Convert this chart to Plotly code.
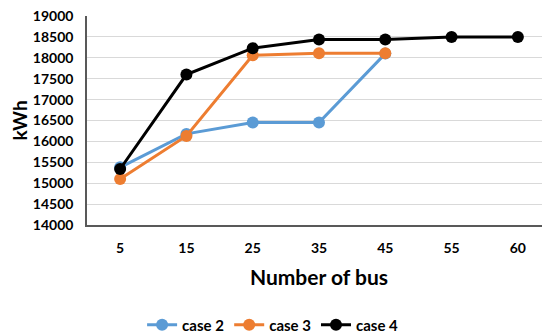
import plotly.graph_objects as go

buses = ["5", "15", "25", "35", "45", "55", "60"]
case2 = [15380, 16180, 16450, 16450, 18100]
case3 = [15100, 16130, 18060, 18110, 18110]
case4 = [15340, 17600, 18230, 18440, 18440, 18500, 18500]
y_ticks = list(range(14000, 19001, 500))
y_labels = [str(v) for v in y_ticks]

FONT = "Lato"

fig = go.Figure()
for name, vals, color in [("case 2", case2, "#5B9BD5"),
                          ("case 3", case3, "#ED7D31"),
                          ("case 4", case4, "#000000")]:
    fig.add_trace(go.Scatter(
        x=buses[:len(vals)], y=vals, name=name, mode="lines+markers",
        line=dict(color=color, width=3),
        marker=dict(color=color, size=12),
    ))

fig.update_layout(
    width=550, height=333,
    margin=dict(l=79, r=7, t=8, b=116, autoexpand=False),
    plot_bgcolor="white", paper_bgcolor="white",
    font=dict(family=FONT, color="#000000"),
    showlegend=True,
    legend=dict(orientation="h", x=0.40, xanchor="center", y=-0.478, yanchor="middle",
                font=dict(family=FONT, size=15, color="#000000", weight="bold"),
                itemwidth=30, tracegroupgap=0),
    xaxis=dict(
        type="category", categoryorder="array", categoryarray=buses,
        showgrid=False, showline=True, linecolor="#595959", linewidth=1.5,
        ticks="", tickfont=dict(family=FONT, size=14, weight="bold"),
        ticklabelstandoff=9, automargin=False,
        title=dict(text="Number of bus", font=dict(family=FONT, size=21, weight="bold"), standoff=16),
        range=[-0.5, 6.5],
    ),
    yaxis=dict(
        range=[14000, 19000], tickvals=y_ticks, ticktext=y_labels,
        showgrid=True, gridcolor="#D9D9D9", gridwidth=1,
        showline=True, linecolor="#595959", linewidth=1.5,
        ticks="", tickfont=dict(family=FONT, size=14, weight="bold"),
        ticklabelstandoff=9, automargin=False, ticklabeloverflow="allow",
        title=dict(text="kWh", font=dict(family=FONT, size=19, weight="bold"), standoff=20),
        zeroline=False,
    ),
)

fig.write_html("out.html")
